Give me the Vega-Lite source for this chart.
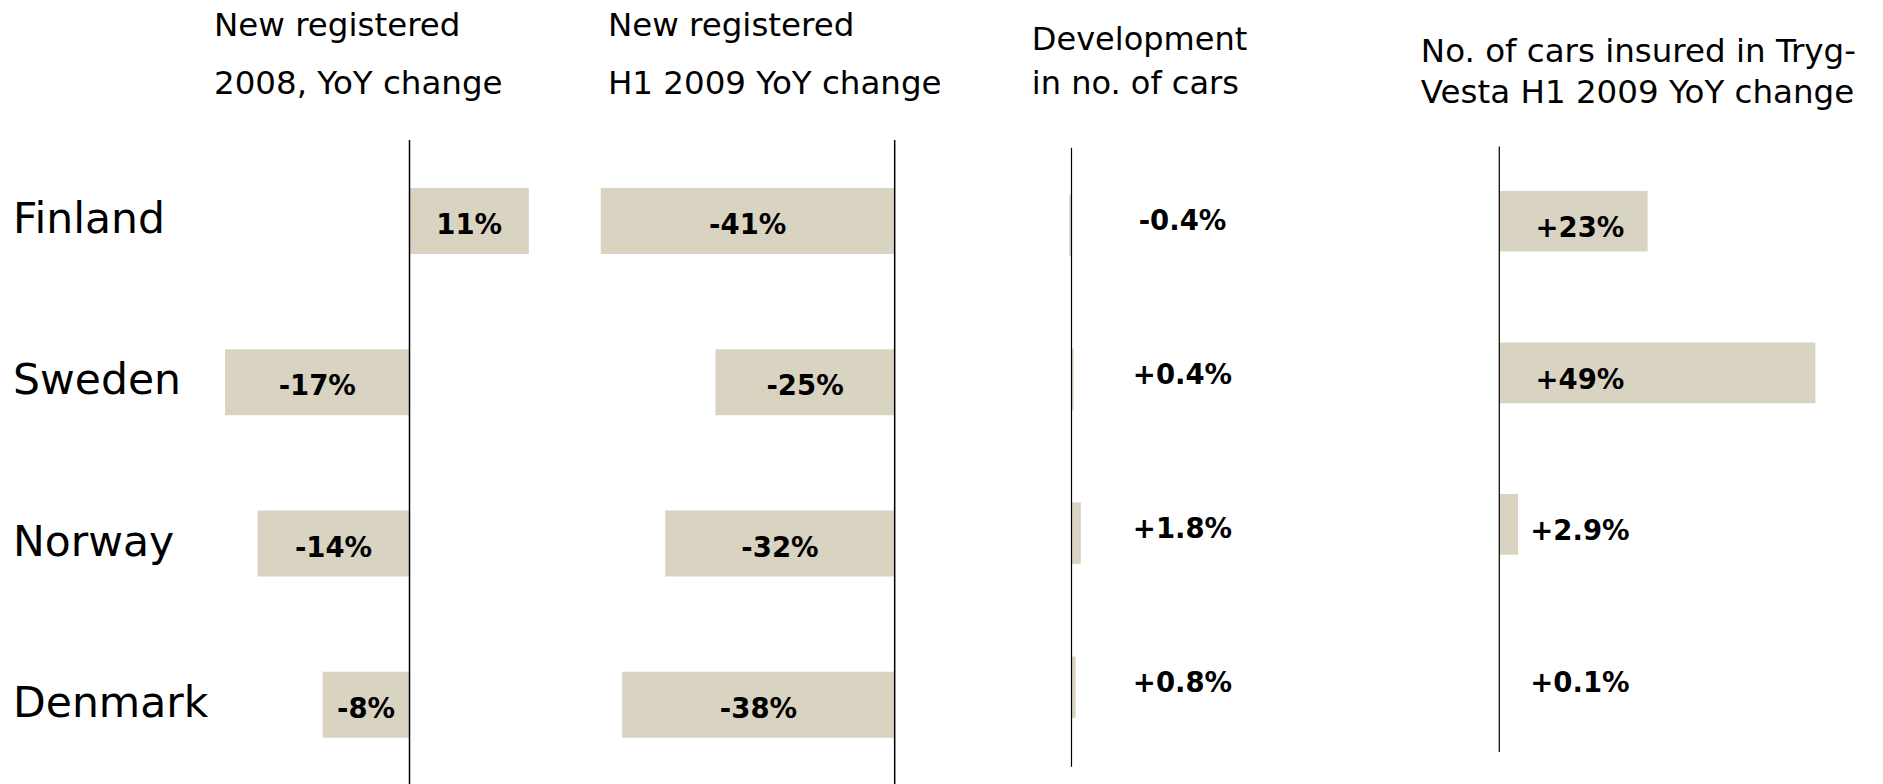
{
  "$schema": "https://vega.github.io/schema/vega-lite/v6.json",
  "width": 1883,
  "height": 644,
  "autosize": "none",
  "padding": {"left": 0, "top": 140, "right": 0, "bottom": 0},
  "background": "white",
  "config": {"view": {"stroke": null}, "font": "DejaVu Sans", "text": {"font": "DejaVu Sans"}},
  "data": {"values": [
    {"country": "Finland", "reg2008": 11, "regH1": -41, "dev": -0.4, "tryg": 23, "l1": "11%", "l2": "-41%", "l3": "-0.4%", "l4": "+23%"},
    {"country": "Sweden", "reg2008": -17, "regH1": -25, "dev": 0.4, "tryg": 49, "l1": "-17%", "l2": "-25%", "l3": "+0.4%", "l4": "+49%"},
    {"country": "Norway", "reg2008": -14, "regH1": -32, "dev": 1.8, "tryg": 2.9, "l1": "-14%", "l2": "-32%", "l3": "+1.8%", "l4": "+2.9%"},
    {"country": "Denmark", "reg2008": -8, "regH1": -38, "dev": 0.8, "tryg": 0.1, "l1": "-8%", "l2": "-38%", "l3": "+0.8%", "l4": "+0.1%"}
  ]},
  "resolve": {"scale": {"x": "independent", "y": "independent"}},
  "layer": [
    {
      "mark": {"type": "text", "align": "left", "baseline": "middle", "fontSize": 42.5, "dy": -1, "color": "black"},
      "encoding": {
        "x": {"datum": -36.54, "type": "quantitative", "scale": {"domain": [-37.742, 135.806], "nice": false, "zero": false}, "axis": null},
        "y": {"field": "country", "type": "nominal", "scale": {"domain": ["Finland", "Sweden", "Norway", "Denmark"], "range": [0.4, 645.4], "paddingInner": 0, "paddingOuter": 0}, "axis": null},
        "text": {"field": "country"}
      }
    },
    {
      "mark": {"type": "bar", "color": "#d9d3c2", "height": {"band": 0.41}},
      "encoding": {
        "x": {"field": "reg2008", "type": "quantitative", "scale": {"domain": [-37.742, 135.806], "nice": false, "zero": false}, "axis": null},
        "x2": {"datum": 0},
        "y": {"field": "country", "type": "nominal", "scale": {"domain": ["Finland", "Sweden", "Norway", "Denmark"], "range": [0.4, 645.4], "paddingInner": 0, "paddingOuter": 0}, "axis": null}
      }
    },
    {
      "data": {"values": [{"z": 0}]},
      "mark": {"type": "rule", "color": "black", "strokeWidth": 1.5},
      "encoding": {
        "x": {"datum": 0, "type": "quantitative", "scale": {"domain": [-37.742, 135.806], "nice": false, "zero": false}, "axis": null}
      }
    },
    {
      "mark": {"type": "text", "fontSize": 27.5, "fontWeight": "bold", "baseline": "middle", "dy": 5, "color": "black"},
      "encoding": {
        "x": {"field": "reg2008", "type": "quantitative", "scale": {"domain": [-75.484, 271.613], "nice": false, "zero": false}, "axis": null},
        "y": {"field": "country", "type": "nominal", "scale": {"domain": ["Finland", "Sweden", "Norway", "Denmark"], "range": [0.4, 645.4], "paddingInner": 0, "paddingOuter": 0}, "axis": null},
        "text": {"field": "l1"}
      }
    },
    {
      "data": {"values": [{"t": "New registered\n2008, YoY change"}]},
      "mark": {"type": "text", "align": "left", "baseline": "middle", "fontSize": 32.5, "lineBreak": "\n", "lineHeight": 58, "dy": -195, "color": "black"},
      "encoding": {
        "x": {"datum": -18.02, "type": "quantitative", "scale": {"domain": [-37.742, 135.806], "nice": false, "zero": false}, "axis": null},
        "y": {"datum": "Finland", "type": "nominal", "scale": {"domain": ["Finland", "Sweden", "Norway", "Denmark"], "range": [0.4, 645.4], "paddingInner": 0, "paddingOuter": 0}, "axis": null},
        "text": {"field": "t"}
      }
    },
    {
      "mark": {"type": "bar", "color": "#d9d3c2", "height": {"band": 0.41}},
      "encoding": {
        "x": {"field": "regH1", "type": "quantitative", "scale": {"domain": [-124.78, 137.84], "nice": false, "zero": false}, "axis": null},
        "x2": {"datum": 0},
        "y": {"field": "country", "type": "nominal", "scale": {"domain": ["Finland", "Sweden", "Norway", "Denmark"], "range": [0.4, 645.4], "paddingInner": 0, "paddingOuter": 0}, "axis": null}
      }
    },
    {
      "data": {"values": [{"z": 0}]},
      "mark": {"type": "rule", "color": "black", "strokeWidth": 1.5},
      "encoding": {
        "x": {"datum": 0, "type": "quantitative", "scale": {"domain": [-124.78, 137.84], "nice": false, "zero": false}, "axis": null}
      }
    },
    {
      "mark": {"type": "text", "fontSize": 27.5, "fontWeight": "bold", "baseline": "middle", "dy": 5, "color": "black"},
      "encoding": {
        "x": {"field": "regH1", "type": "quantitative", "scale": {"domain": [-249.57, 275.68], "nice": false, "zero": false}, "axis": null},
        "y": {"field": "country", "type": "nominal", "scale": {"domain": ["Finland", "Sweden", "Norway", "Denmark"], "range": [0.4, 645.4], "paddingInner": 0, "paddingOuter": 0}, "axis": null},
        "text": {"field": "l2"}
      }
    },
    {
      "data": {"values": [{"t": "New registered\nH1 2009 YoY change"}]},
      "mark": {"type": "text", "align": "left", "baseline": "middle", "fontSize": 32.5, "lineBreak": "\n", "lineHeight": 58, "dy": -195, "color": "black"},
      "encoding": {
        "x": {"datum": -40, "type": "quantitative", "scale": {"domain": [-124.78, 137.84], "nice": false, "zero": false}, "axis": null},
        "y": {"datum": "Finland", "type": "nominal", "scale": {"domain": ["Finland", "Sweden", "Norway", "Denmark"], "range": [0.4, 645.4], "paddingInner": 0, "paddingOuter": 0}, "axis": null},
        "text": {"field": "t"}
      }
    },
    {
      "mark": {"type": "bar", "color": "#d9d3c2", "height": {"band": 0.4}},
      "encoding": {
        "x": {"field": "dev", "type": "quantitative", "scale": {"domain": [-206.06, 156.06], "nice": false, "zero": false}, "axis": null},
        "x2": {"datum": 0},
        "y": {"field": "country", "type": "nominal", "scale": {"domain": ["Finland", "Sweden", "Norway", "Denmark"], "range": [8.3, 624.3], "paddingInner": 0, "paddingOuter": 0}, "axis": null}
      }
    },
    {
      "data": {"values": [{"z": 0}]},
      "mark": {"type": "rule", "color": "black", "strokeWidth": 1.2},
      "encoding": {
        "x": {"datum": 0, "type": "quantitative", "scale": {"domain": [-206.06, 156.06], "nice": false, "zero": false}, "axis": null},
        "y": {"datum": 0, "type": "quantitative", "scale": {"domain": [0, 1], "range": [7.7, 626.7], "nice": false, "zero": false}, "axis": null},
        "y2": {"datum": 1}
      }
    },
    {
      "mark": {"type": "text", "fontSize": 27.5, "fontWeight": "bold", "baseline": "middle", "dy": -3, "color": "black"},
      "encoding": {
        "x": {"datum": 21.35, "type": "quantitative", "scale": {"domain": [-206.06, 156.06], "nice": false, "zero": false}, "axis": null},
        "y": {"field": "country", "type": "nominal", "scale": {"domain": ["Finland", "Sweden", "Norway", "Denmark"], "range": [8.3, 624.3], "paddingInner": 0, "paddingOuter": 0}, "axis": null},
        "text": {"field": "l3"}
      }
    },
    {
      "data": {"values": [{"t": "Development\nin no. of cars"}]},
      "mark": {"type": "text", "align": "left", "baseline": "middle", "fontSize": 32, "lineBreak": "\n", "lineHeight": 44, "dy": -181, "color": "black"},
      "encoding": {
        "x": {"datum": -7.63, "type": "quantitative", "scale": {"domain": [-206.06, 156.06], "nice": false, "zero": false}, "axis": null},
        "y": {"datum": "Finland", "type": "nominal", "scale": {"domain": ["Finland", "Sweden", "Norway", "Denmark"], "range": [0.4, 645.4], "paddingInner": 0, "paddingOuter": 0}, "axis": null},
        "text": {"field": "t"}
      }
    },
    {
      "mark": {"type": "bar", "color": "#d9d3c2", "height": {"band": 0.4}},
      "encoding": {
        "x": {"field": "tryg", "type": "quantitative", "scale": {"domain": [-232.45, 59.49], "nice": false, "zero": false}, "axis": null},
        "x2": {"datum": 0},
        "y": {"field": "country", "type": "nominal", "scale": {"domain": ["Finland", "Sweden", "Norway", "Denmark"], "range": [5.5, 611.7], "paddingInner": 0, "paddingOuter": 0}, "axis": null}
      }
    },
    {
      "data": {"values": [{"z": 0}]},
      "mark": {"type": "rule", "color": "black", "strokeWidth": 1.2},
      "encoding": {
        "x": {"datum": 0, "type": "quantitative", "scale": {"domain": [-232.45, 59.49], "nice": false, "zero": false}, "axis": null},
        "y": {"datum": 0, "type": "quantitative", "scale": {"domain": [0, 1], "range": [6.5, 612], "nice": false, "zero": false}, "axis": null},
        "y2": {"datum": 1}
      }
    },
    {
      "mark": {"type": "text", "fontSize": 27.5, "fontWeight": "bold", "baseline": "middle", "dy": 8, "color": "black"},
      "encoding": {
        "x": {"datum": 12.5, "type": "quantitative", "scale": {"domain": [-232.45, 59.49], "nice": false, "zero": false}, "axis": null},
        "y": {"field": "country", "type": "nominal", "scale": {"domain": ["Finland", "Sweden", "Norway", "Denmark"], "range": [5.5, 611.7], "paddingInner": 0, "paddingOuter": 0}, "axis": null},
        "text": {"field": "l4"}
      }
    },
    {
      "data": {"values": [{"t": "No. of cars insured in Tryg-\nVesta H1 2009 YoY change"}]},
      "mark": {"type": "text", "align": "left", "baseline": "middle", "fontSize": 32.5, "lineBreak": "\n", "lineHeight": 41, "dy": -169, "color": "black"},
      "encoding": {
        "x": {"datum": -12.16, "type": "quantitative", "scale": {"domain": [-232.45, 59.49], "nice": false, "zero": false}, "axis": null},
        "y": {"datum": "Finland", "type": "nominal", "scale": {"domain": ["Finland", "Sweden", "Norway", "Denmark"], "range": [0.4, 645.4], "paddingInner": 0, "paddingOuter": 0}, "axis": null},
        "text": {"field": "t"}
      }
    }
  ]
}
